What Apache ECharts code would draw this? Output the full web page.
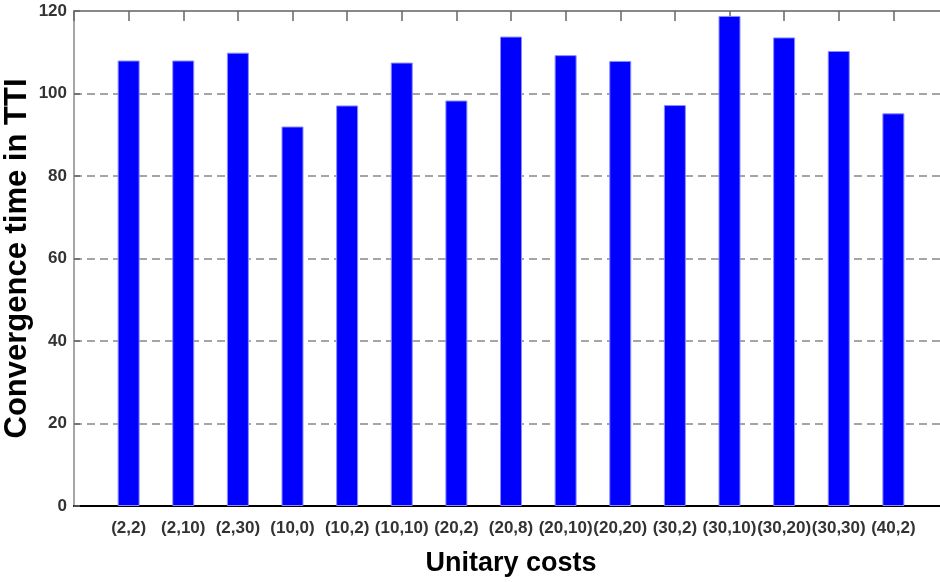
<!DOCTYPE html>
<html>
<head>
<meta charset="utf-8">
<script src="https://cdn.jsdelivr.net/npm/echarts@6/dist/echarts.min.js"></script>
<style>
  html, body { margin: 0; padding: 0; background: #fff; }
  #chart { width: 940px; height: 582px; }
</style>
</head>
<body>
<div id="chart"></div>
<script>
var categories = ['(2,2)', '(2,10)', '(2,30)', '(10,0)', '(10,2)', '(10,10)', '(20,2)', '(20,8)',
                  '(20,10)', '(20,20)', '(30,2)', '(30,10)', '(30,20)', '(30,30)', '(40,2)'];
var times = [108.0, 108.0, 109.9, 92.0, 97.1, 107.5, 98.3, 113.8,
             109.3, 107.9, 97.2, 118.8, 113.6, 110.3, 95.2];
var yTicks = [0, 20, 40, 60, 80, 100, 120];

var sans = "'Liberation Sans', Arial, sans-serif";

var myChart = echarts.init(document.getElementById('chart'));

var option = {
    animation: false,
    backgroundColor: '#fff',
    grid: {
        left: 74,
        top: 11,
        right: -8,
        bottom: 76,
        outerBoundsMode: 'none',
        containLabel: false
    },
    xAxis: [{
            type: 'value',
            min: 0,
            max: categories.length + 1,
            interval: 1,
            name: 'Unitary costs',
            nameLocation: 'middle',
            nameGap: 44,
            nameMoveOverlap: false,
            nameTextStyle: {
                fontFamily: sans,
                fontWeight: 'bold',
                fontSize: 27,
                color: '#000'
            },
            axisLine: { lineStyle: { color: '#000', width: 2 } },
            axisTick: { show: false },
            splitLine: { show: false },
            axisLabel: {
                margin: 14,
                fontFamily: sans,
                fontWeight: 'bold',
                fontSize: 17,
                color: '#333',
                formatter: function (v) {
                    return categories[v - 1] || '';
                }
            }
        },
        {
            type: 'value',
            position: 'top',
            min: 0,
            max: categories.length + 1,
            interval: 1,
            axisLine: { lineStyle: { color: '#888', width: 2 } },
            axisTick: { inside: true, length: 10, lineStyle: { color: '#666', width: 1.5 } },
            axisLabel: { show: false },
            splitLine: { show: false }
        }
    ],
    yAxis: {
        type: 'value',
        min: yTicks[0],
        max: yTicks[yTicks.length - 1],
        interval: 20,
        name: 'Convergence time in TTI',
        nameLocation: 'middle',
        nameGap: 41,
        nameMoveOverlap: false,
        nameTextStyle: {
            fontFamily: sans,
            fontWeight: 'bold',
            fontSize: 31,
            color: '#000'
        },
        axisLine: { show: true, lineStyle: { color: '#888', width: 1.5 } },
        axisTick: { show: true, inside: true, length: 6, lineStyle: { color: '#666', width: 1.5 } },
        splitLine: {
            lineStyle: { color: '#888', width: 1.5, type: [8, 5] }
        },
        axisLabel: {
            margin: 7,
            fontFamily: sans,
            fontWeight: 'bold',
            fontSize: 17,
            color: '#333'
        }
    },
    series: [{
        type: 'bar',
        xAxisIndex: 0,
        barWidth: 22,
        itemStyle: {
            color: '#0000ff',
            borderColor: '#8c8cff',
            borderWidth: 1
        },
        data: categories.map(function (c, i) {
            return [i + 1, times[i]];
        })
    }]
};
myChart.setOption(option);
</script>
</body>
</html>
